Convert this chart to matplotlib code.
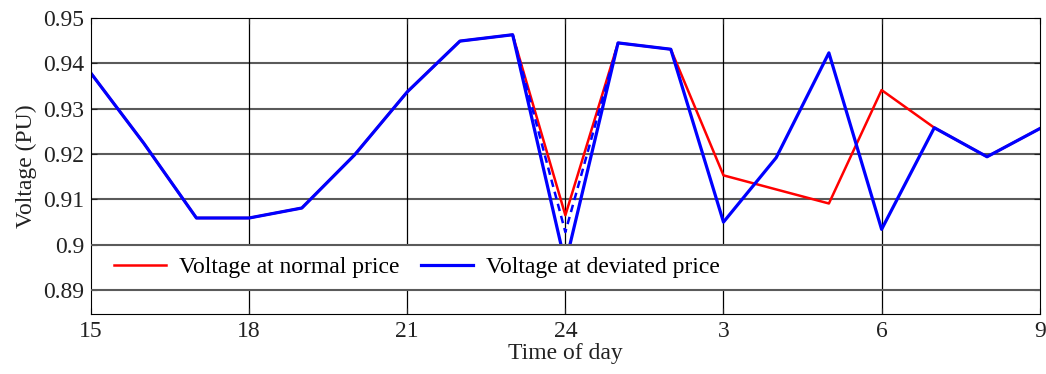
import numpy as np
import matplotlib
matplotlib.use('Agg')
import matplotlib.pyplot as plt

plt.rcParams['font.family'] = ['Liberation Serif', 'DejaVu Serif']

# hours 15 .. 33 (33 = 9 next day)
hours = list(range(15, 34))
tick_hours = [15, 18, 21, 24, 27, 30, 33]
tick_labels = ['15', '18', '21', '24', '3', '6', '9']

v_normal = [0.9378, 0.9224, 0.9059, 0.9059, 0.9081, 0.9198, 0.9337, 0.9449, 0.9463,
            0.9065, 0.9445, 0.9431, 0.9153, 0.9122, 0.9091, 0.9341, 0.9258, 0.9194, 0.9256]
v_deviated = [0.9378, 0.9224, 0.9059, 0.9059, 0.9081, 0.9198, 0.9337, 0.9449, 0.9463,
              0.8958, 0.9445, 0.9431, 0.9050, 0.9192, 0.9423, 0.9034, 0.9258, 0.9194, 0.9256]
# dashed blue around midnight
dash_hours = [23, 24, 25]
v_dash = [0.9463, 0.9028, 0.9445]

fig = plt.figure(figsize=(10.46, 3.74), dpi=100)
ax = fig.add_axes([0.087, 0.160, 0.907, 0.792])

ax.plot(hours, v_normal, color='red', lw=1.8, label='Voltage at normal price')
ax.plot(dash_hours, v_dash, color='blue', lw=1.8, ls=(0, (3, 2)))
ax.plot(hours, v_deviated, color='blue', lw=2.3, label='Voltage at deviated price')

ax.set_xlim(15, 33)
ax.set_ylim(0.8847, 0.95)
ax.set_xticks(tick_hours)
ax.set_xticklabels(tick_labels)
ax.set_yticks([0.89, 0.9, 0.91, 0.92, 0.93, 0.94, 0.95])
ax.set_yticklabels(['0.89', '0.9', '0.91', '0.92', '0.93', '0.94', '0.95'])
ax.tick_params(direction='in', length=4, labelsize=17, top=True, right=True,
               colors='#222222', pad=5)

for y in [0.91, 0.92, 0.93, 0.94]:
    ax.axhline(y, color='#5a5a5a', lw=1.5, zorder=0)
# these two frame the legend box, so draw them above it
for y in [0.89, 0.9]:
    ax.axhline(y, color='#5a5a5a', lw=1.5, zorder=6)
for x in [18, 21, 24, 27, 30]:
    ax.axvline(x, color='black', lw=0.9, zorder=0)

ax.set_xlabel('Time of day', fontsize=17, labelpad=1, color='#222222')
ax.set_ylabel('Voltage (PU)', fontsize=17, labelpad=4, color='#222222')

leg = ax.legend(loc='center left', ncol=2, fontsize=17, bbox_to_anchor=(0.012, 0.157),
                frameon=True, fancybox=False, edgecolor='white', framealpha=1,
                handlelength=2.2, handletextpad=0.55, columnspacing=0.9,
                borderaxespad=0.0, borderpad=0.5)
leg.get_frame().set_linewidth(0)

fig.savefig('out.png', dpi=100)
